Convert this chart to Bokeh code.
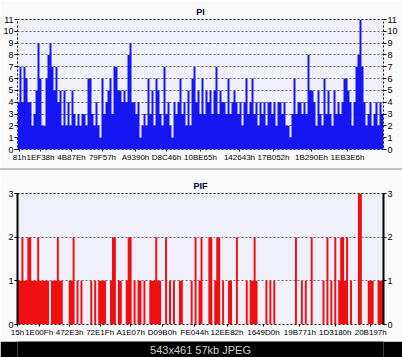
from bokeh.plotting import figure
from bokeh.models import FixedTicker, Range1d, Div, LinearAxis
from bokeh.layouts import column
from bokeh.embed import file_html
from bokeh.resources import INLINE
from bokeh.core.properties import value

# ---------------- data ----------------
pi_values = [
    4, 7, 4, 7, 6, 4, 4, 2, 3, 5,
    9, 6, 2, 2, 6, 8, 9, 7, 5, 7,
    4, 5, 2, 5, 2, 4, 2, 5, 3, 2,
    3, 2, 3, 3, 2, 6, 6, 3, 2, 4,
    2, 1, 6, 3, 4, 5, 6, 3, 7, 7,
    5, 5, 4, 5, 4, 8, 9, 4, 4, 3,
    4, 1, 2, 3, 2, 6, 3, 5, 2, 6,
    5, 3, 2, 7, 3, 4, 2, 1, 4, 3,
    4, 6, 3, 4, 2, 5, 2, 6, 7, 4,
    5, 3, 6, 3, 5, 4, 5, 3, 5, 7,
    3, 5, 4, 4, 3, 6, 3, 4, 5, 4,
    3, 4, 2, 4, 6, 3, 4, 6, 3, 4,
    2, 4, 3, 4, 2, 4, 4, 3, 4, 2,
    4, 4, 3, 4, 2, 2, 1, 3, 6, 3,
    4, 4, 3, 4, 3, 8, 5, 5, 4, 2,
    5, 3, 2, 6, 3, 5, 3, 2, 5, 3,
    4, 3, 4, 6, 6, 5, 4, 2, 4, 7,
    8, 11, 7, 4, 2, 3, 4, 2, 3, 4,
    2, 4, 3,
]

pif_values = [
    1, 1, 2, 1, 1, 2, 2, 1, 1, 1,
    2, 1, 1, 1, 1, 1, 0, 1, 1, 1,
    2, 1, 1, 0, 0, 0, 1, 1, 2, 0,
    1, 0, 1, 0, 0, 0, 0, 1, 0, 1,
    0, 1, 1, 1, 1, 0, 0, 1, 2, 2,
    0, 1, 1, 0, 0, 1, 2, 2, 0, 1,
    0, 1, 1, 0, 1, 0, 0, 1, 1, 1,
    2, 1, 1, 0, 0, 2, 0, 1, 0, 1,
    0, 0, 1, 1, 0, 0, 0, 0, 1, 0,
    2, 0, 1, 2, 0, 0, 0, 2, 2, 0,
    1, 2, 2, 0, 1, 0, 0, 1, 1, 0,
    0, 2, 0, 0, 0, 0, 1, 0, 1, 1,
    2, 1, 0, 0, 0, 0, 1, 0, 1, 0,
    1, 0, 0, 0, 0, 0, 0, 0, 0, 0,
    0, 2, 0, 0, 1, 0, 1, 0, 0, 2,
    0, 0, 0, 0, 0, 1, 0, 2, 0, 1,
    0, 2, 0, 1, 2, 2, 1, 2, 0, 1,
    0, 0, 0, 3, 3, 0, 0, 0, 1, 1,
    1, 0, 0, 1, 1, 1,
]

pi_tick_pos = [1, 11.5, 27, 42.5, 59, 74.5, 91.5, 111, 128, 147, 165]
pi_tick_labels = ["81h", "1EF38h", "4B87Eh", "79F57h", "A9390h", "D8C46h",
                  "10BE65h", "142643h", "17B052h", "1B290Eh", "1EB3E6h"]

pif_tick_pos = [0, 11, 26.5, 42, 57.5, 73.5, 90, 106.5, 125, 143.5, 161.5, 179.5]
pif_tick_labels = ["15h", "1E00Fh", "472E3h", "72E1Fh", "A1E07h", "D09B0h",
                   "FE044h", "12EE82h", "1649D0h", "19B771h", "1D3180h", "20B197h"]

pi_y_ticks = list(range(0, 12))
pif_y_ticks = [0, 1, 2, 3]
caption = "543x461 57kb JPEG"

FONT = "Liberation Sans"
PANEL_BG = "#FAFAFA"
PLOT_BG = "#F0F0FA"
W = 402


def make_panel(title, values, tick_pos, tick_labels, y_ticks, color, height,
               b_left, b_right, b_top, b_bottom, solid_sides, title_standoff):
    n = len(values)
    p = figure(width=W, height=height, output_backend="svg", toolbar_location=None,
               x_range=Range1d(0, n), y_range=Range1d(0, max(y_ticks)),
               min_border_left=b_left, min_border_right=b_right,
               min_border_top=b_top, min_border_bottom=b_bottom, margin=0)
    p.title.text = title
    p.title.align = "center"
    p.title.vertical_align = "top"
    p.title.text_font = FONT
    p.title.text_font_size = "9px"
    p.title.text_font_style = "bold"
    p.title.text_color = "#000040"
    p.title.standoff = title_standoff
    p.title.offset = 0
    p.background_fill_color = PLOT_BG
    p.border_fill_color = PANEL_BG
    p.outline_line_color = "black"
    p.outline_line_dash = "2 2"
    p.outline_line_width = 1

    xs = list(range(n + 1))
    ys = list(values) + [values[-1]]
    p.varea_step(x=xs, y1=[0] * (n + 1), y2=ys, step_mode="after", fill_color=color)

    p.xgrid.visible = False
    p.ygrid.ticker = FixedTicker(ticks=y_ticks)
    p.ygrid.grid_line_color = "#6A6A6A"
    p.ygrid.grid_line_dash = "2 2"

    right = LinearAxis()
    p.add_layout(right, "right")

    for ax in p.yaxis:
        ax.ticker = FixedTicker(ticks=y_ticks)
        ax.minor_tick_line_color = None
        ax.major_tick_out = 3
        ax.major_tick_in = 0
        ax.major_label_standoff = 1
        ax.major_label_text_font = FONT
        ax.major_label_text_font_size = "9px"
        ax.major_label_text_color = "black"
        if solid_sides:
            ax.axis_line_color = "black"
            ax.axis_line_width = 2
        else:
            ax.axis_line_color = None

    xa = p.xaxis[0]
    xa.ticker = FixedTicker(ticks=tick_pos)
    xa.major_label_overrides = {t: l for t, l in zip(tick_pos, tick_labels)}
    xa.minor_tick_line_color = None
    xa.major_tick_out = 2
    xa.major_tick_in = 0
    xa.major_label_standoff = 1
    xa.major_label_text_font = FONT
    xa.major_label_text_font_size = "8px"
    xa.major_label_text_color = "black"
    xa.axis_line_color = None
    return p


pi_fig = make_panel("PI", pi_values, pi_tick_pos, pi_tick_labels, pi_y_ticks,
                    "#1616F2", 168, 17, 19, 19, 19, False, 2)
pif_fig = make_panel("PIF", pif_values, pif_tick_pos, pif_tick_labels, pif_y_ticks,
                     "#EE1010", 171, 13, 17, 23, 17, True, 2)

sep = Div(text="", width=W, height=2, margin=0,
          styles={"background-color": "#C4C4C4", "overflow": "hidden",
                  "font-size": "0px", "line-height": "0px"})

bar = figure(width=W, height=16, output_backend="svg", toolbar_location=None,
             x_range=Range1d(0, 1), y_range=Range1d(0, 1),
             x_axis_type=None, y_axis_type=None, margin=0,
             min_border_left=0, min_border_right=0, min_border_top=0, min_border_bottom=0)
bar.background_fill_color = "black"
bar.border_fill_color = "black"
bar.outline_line_color = None
bar.xgrid.visible = False
bar.ygrid.visible = False
bar.text(x=[0.5], y=[0.5], text=[caption], text_align="center", text_baseline="middle",
         text_color="#D0D0D0", text_font=value(FONT), text_font_size="11px")

layout = column(pi_fig, sep, pif_fig, bar, spacing=0, margin=0)

open("out.html", "w").write(file_html(layout, INLINE))
